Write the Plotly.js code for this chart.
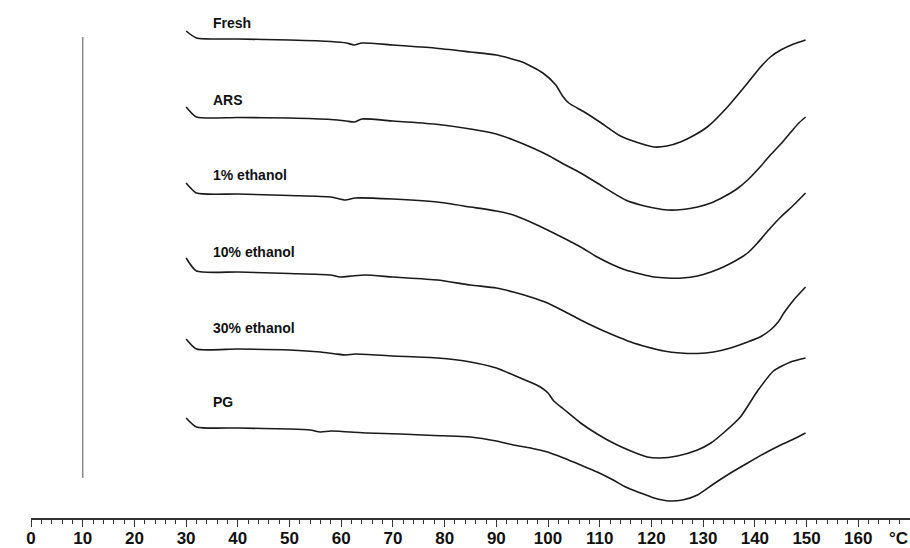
<!DOCTYPE html>
<html>
<head>
<meta charset="utf-8">
<script src="https://cdn.plot.ly/plotly-3.0.1.min.js"></script>
<style>html,body{margin:0;padding:0;background:#fff;}#chart{width:910px;height:548px;}</style>
</head>
<body>
<div id="chart"></div>
<script>
// Sample names
const sampleNames = ["Fresh", "ARS", "1% ethanol", "10% ethanol", "30% ethanol", "PG"];

// Temperature (°C) and offset heat-flow (arbitrary units, curves stacked)
const freshT = [30, 32, 40, 50, 58, 61, 62.5, 64, 70, 78, 85, 90, 95, 99, 101.5, 102.8, 104, 107, 110, 114, 117, 120.5, 123, 125.6, 128, 130.8, 134.7, 138.6, 141.1, 143, 145, 147.5, 149.8];
const freshH = [487, 480, 479, 478, 476.5, 475, 473, 475, 473, 470, 466, 463, 456, 445, 433, 422, 415, 406, 396, 382, 376, 371, 372, 376, 382, 391, 411, 435, 451, 461, 468, 474, 478];

const arsT = [30, 32, 40, 50, 58, 61, 62.5, 64, 70, 78, 85, 90, 93.3, 96.6, 99.9, 103, 106.3, 109.5, 112.6, 115, 117.9, 120.5, 123.1, 126, 128.9, 131.5, 133.9, 136.5, 138.6, 141, 143, 145, 147.3, 148.5, 149.8];
const arsH = [411, 401, 400.5, 400, 398.5, 397, 396, 399, 397, 394, 389, 384, 378, 371, 363, 354, 345, 335, 325, 318, 313, 310, 308, 308.5, 311, 315, 321, 329, 338, 351, 363, 374, 388, 395, 401];

const eth1T = [30, 32, 40, 50, 58, 60.8, 62.7, 70, 78.6, 85, 90, 93.3, 96.6, 99.9, 103, 106.3, 109.5, 112.6, 115, 117.9, 120.5, 123.1, 126, 128.9, 131.5, 133.9, 136.5, 138.6, 140.5, 143, 145, 147.5, 149.8];
const eth1H = [335, 325, 324, 322.5, 321, 318, 320, 319, 316, 311, 307, 303, 296, 288, 280, 271, 261, 253, 248, 244, 241, 240, 240, 242, 246, 251, 258, 265, 275, 290, 301, 313, 325];

const eth10T = [30, 32, 40, 50, 57.9, 59.8, 62, 64.6, 70, 78.6, 85, 90, 93.3, 96.6, 99.9, 103, 106.3, 109.5, 112.6, 116, 119.2, 122.4, 125.6, 128.9, 132, 135.3, 138.6, 141, 143, 144.5, 145.6, 147.5, 149.8];
const eth10H = [260, 247, 246, 244.5, 243, 241, 242, 243, 241, 238, 233, 230, 226, 221, 215, 207, 198, 190, 183, 176, 171, 167, 165, 164.5, 166, 170, 176, 181, 188, 196, 205, 218, 231];

const eth30T = [30, 32, 40, 50, 56, 59, 61, 62.7, 70, 78.6, 85, 90, 93.3, 96, 98.5, 100, 101.1, 103, 106.3, 109.5, 112.6, 116, 119.2, 121.6, 125, 128.9, 131.5, 133.9, 137.2, 140.5, 143.6, 146.9, 149.8];
const eth30H = [179, 169, 169, 168, 166, 164, 163, 164, 162, 160, 156, 150, 143, 137, 131, 125, 117, 109, 95, 84, 75, 67, 61, 60, 62, 68, 75, 85, 101, 127, 147, 156, 160];

const pgT = [30, 32, 40, 50, 54, 56, 58, 65, 71.4, 78, 85, 90, 93.3, 96.6, 99.9, 103, 106.3, 109.5, 112.6, 115, 117.9, 120.5, 123.5, 126, 128.9, 132, 135.3, 138.6, 142, 145, 147.5, 149.8];
const pgH = [100, 91, 90, 89, 88, 86, 87, 85, 84, 82.5, 81, 77, 73, 70, 66, 60, 53, 46, 38, 31, 25, 20, 17, 18, 23, 34, 45, 55, 65, 73, 79, 85];

// Label heights for each curve name (same offset units)
const labelH = [495, 418, 343, 266, 190, 116];

// Axis ticks
const tickValues = [0, 10, 20, 30, 40, 50, 60, 70, 80, 90, 100, 110, 120, 130, 140, 150, 160];

const seriesT = [freshT, arsT, eth1T, eth10T, eth30T, pgT];
const seriesH = [freshH, arsH, eth1H, eth10H, eth30H, pgH];

const traces = sampleNames.map((name, i) => ({
  x: seriesT[i], y: seriesH[i], name: name,
  type: 'scatter', mode: 'lines',
  line: {color: '#1a1a1a', width: 1.6, shape: 'spline', smoothing: 0.6},
  hoverinfo: 'x+name'
}));

const boldFont = {family: 'Liberation Sans, Arial, sans-serif', size: 14, color: '#111', weight: 'bold'};

const annotations = sampleNames.map((name, i) => ({
  x: 34.8, y: labelH[i], xref: 'x', yref: 'y', text: name,
  showarrow: false, xanchor: 'left', yanchor: 'middle', font: boldFont
}));
annotations.push({x: -4.1, y: 303, xref: 'x', yref: 'y', text: '^ Exo', showarrow: false,
  xanchor: 'left', yanchor: 'middle', font: Object.assign({}, boldFont, {size: 17})});
annotations.push({x: 1, y: -0.04, xref: 'paper', yref: 'paper', text: '°C', showarrow: false,
  xanchor: 'right', yanchor: 'middle', font: Object.assign({}, boldFont, {size: 17})});

const layout = {
  width: 910, height: 548,
  margin: {l: 31, r: 0, t: 0, b: 30, pad: 0},
  paper_bgcolor: '#fff', plot_bgcolor: '#fff',
  showlegend: false,
  xaxis: {
    range: [0, 170], showgrid: false, zeroline: false,
    showline: true, linecolor: '#333', linewidth: 1.5,
    ticks: 'outside', ticklen: 7, tickwidth: 1, tickcolor: '#333',
    tickvals: tickValues, ticktext: tickValues.map(String),
    ticklabelstandoff: -3,
    tickfont: {family: 'Liberation Sans, Arial, sans-serif', size: 17, color: '#111', weight: 'bold'},
    minor: {dtick: 2, ticks: 'outside', ticklen: 4, tickwidth: 1, tickcolor: '#333', showgrid: false},
    fixedrange: true
  },
  yaxis: {range: [0, 518], visible: false, fixedrange: true},
  shapes: [{type: 'line', xref: 'x', yref: 'y', x0: 10, x1: 10, y0: 40, y1: 481,
    line: {color: '#888', width: 1.5}}],
  annotations: annotations
};

Plotly.newPlot('chart', traces, layout, {displayModeBar: false, staticPlot: true});
</script>
</body>
</html>
